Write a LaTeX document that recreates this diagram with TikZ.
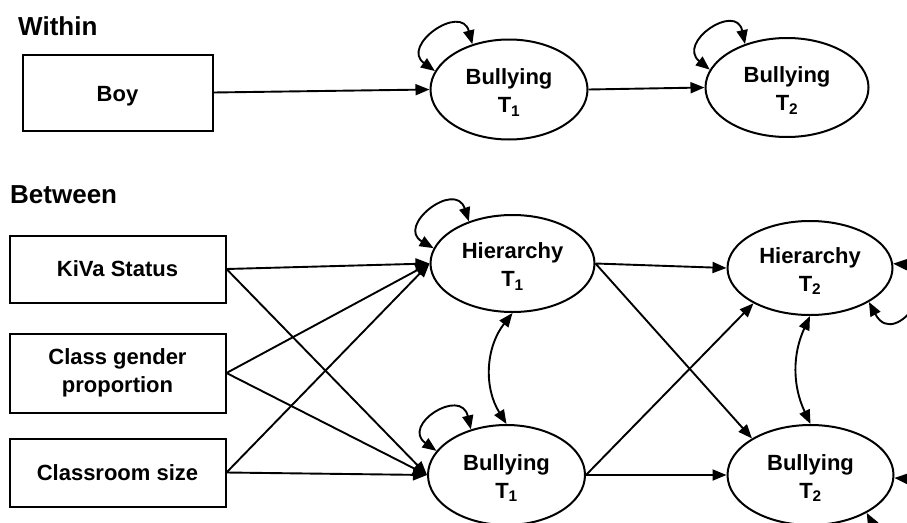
\documentclass[tikz,border=0pt]{standalone}
\usepackage{fontspec}
\setmainfont{Liberation Sans}
\usetikzlibrary{shapes.geometric,arrows.meta}
\begin{document}
\begin{tikzpicture}[x=1pt,y=1pt,
  every node/.style={font=\fontsize{22}{28}\selectfont\bfseries},
  box/.style={draw, line width=2pt, inner sep=0pt, align=center},
  ell/.style={draw, ellipse, line width=2pt, inner sep=0pt, align=center, text height=50pt},
  arr/.style={line width=1.9pt, -{Triangle[length=14pt,width=11pt]}},
  darr/.style={line width=1.9pt, {Triangle[length=14pt,width=11pt]}-{Triangle[length=14pt,width=11pt]}},
  head/.style={font=\fontsize{26}{30}\selectfont\bfseries, anchor=base west, inner sep=0pt}]
\useasboundingbox (0,0) rectangle (907,-522);

% headings
\node[head] (within) at (18,-35) {Within};
\node[head] (between) at (10,-203) {Between};

% boxes
\node[box, minimum width=190pt, minimum height=76pt, text height=22pt] (boy) at (117.5,-92.5) {Boy};
\node[box, minimum width=216pt, minimum height=67pt] (kiva) at (117.5,-269) {KiVa Status};
\node[box, minimum width=216pt, minimum height=79pt] (cgp) at (117.5,-373) {Class gender\\proportion};
\node[box, minimum width=216pt, minimum height=68pt] (csz) at (117.5,-472.5) {Classroom size};

% ellipses
\node[ell, minimum width=157pt, minimum height=100pt] (wb1) at (509,-89.5) {Bullying\\T\textsubscript{1}};
\node[ell, minimum width=163pt, minimum height=99pt] (wb2) at (787,-87.5) {Bullying\\T\textsubscript{2}};
\node[ell, minimum width=164pt, minimum height=97pt] (h1) at (512.5,-263.5) {Hierarchy\\T\textsubscript{1}};
\node[ell, minimum width=165pt, minimum height=94pt] (h2) at (810,-268) {Hierarchy\\T\textsubscript{2}};
\node[ell, minimum width=157pt, minimum height=100pt] (b1) at (506.5,-475) {Bullying\\T\textsubscript{1}};
\node[ell, minimum width=166pt, minimum height=100pt] (b2) at (810.5,-475) {Bullying\\T\textsubscript{2}};

% within paths
\draw[arr] (boy.east) -- (wb1.west);
\draw[arr] (wb1.east) -- (wb2.west);

% between paths
\draw[arr] (kiva.east) -- (h1.west);
\draw[arr] (kiva.east) -- (b1.west);
\draw[arr] (cgp.east) -- (h1.west);
\draw[arr] (cgp.east) -- (b1.west);
\draw[arr] (csz.east) -- (h1.west);
\draw[arr] (csz.east) -- (b1.west);
\draw[arr] (h1.east) -- (h2.west);
\draw[arr] (h1.east) -- (b2.148);
\draw[arr] (b1.east) -- (h2.212);
\draw[arr] (b1.east) -- (b2.west);

% covariances
\draw[darr] (h1.south) to[bend right=35] (b1.north);
\draw[darr] (h2.south) to[bend right=25] (b2.north);

% residual loops
\draw[darr] (wb1.129) .. controls +(105:43) and +(144:43) .. (wb1.166);
\draw[darr] (wb2.134) .. controls +(102:43) and +(141:43) .. (wb2.167);
\draw[darr] (h1.136) .. controls +(108:44) and +(150:44) .. (h1.169);
\draw[darr] (b1.128) .. controls +(103:44) and +(144.5:44) .. (b1.161);
\draw[darr] (h2.3) .. controls +(-4:58) and +(-62:58) .. (h2.-30);
\draw[darr] (b2.-2) .. controls +(-4:58) and +(-62:58) .. (b2.-34);
\end{tikzpicture}
\end{document}
